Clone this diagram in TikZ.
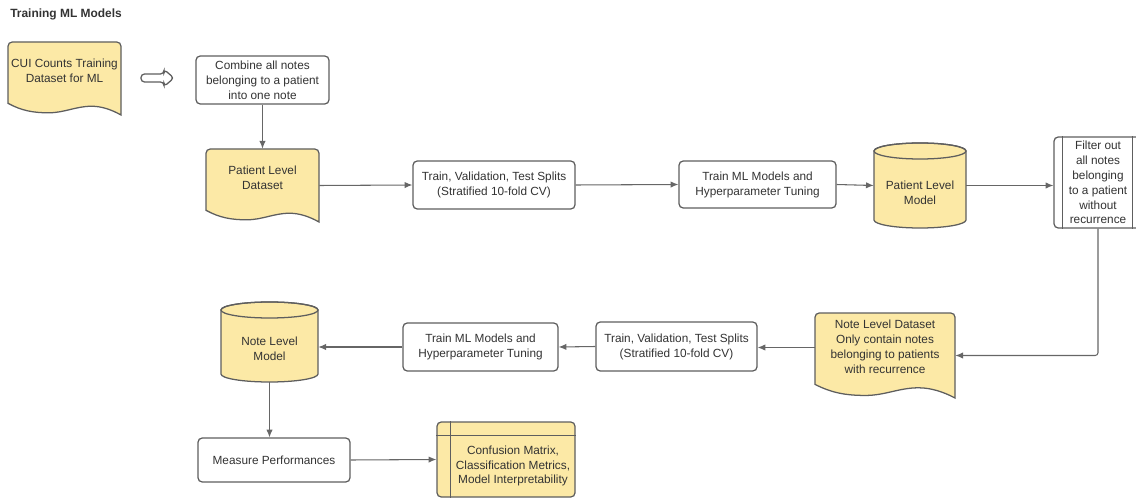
\documentclass[tikz,border=0pt]{standalone}
\usepackage{fontspec}
\setmainfont{Liberation Sans}
\usetikzlibrary{arrows.meta,calc}

\definecolor{noteyellow}{HTML}{FCE9A6}
\definecolor{edgegray}{HTML}{5E5E5E}
\definecolor{linegray}{HTML}{666666}
\definecolor{textgray}{HTML}{333333}

\tikzset{
  shapeline/.style={draw=edgegray, line width=0.9pt},
  boxsize/.style 2 args={minimum width=#1*0.025cm, minimum height=#2*0.025cm},
  stepbox/.style={shapeline, fill=white, rounded corners=3pt, align=center, text=textgray, inner sep=0pt},
  docbox/.style={draw=none, inner sep=0pt},
  notetext/.style={align=center, text=textgray, inner sep=0pt},
  flow/.style={draw=linegray, line width=0.75pt, -{Latex[length=5.5pt,width=4.5pt]}},
}

% document shape with a wavy bottom: name, x, y, width, height, text
\newcommand{\docshape}[6]{%
  \begin{scope}[shift={(#2,#3)}, xscale=#4, yscale=#5]
    \draw[shapeline, fill=noteyellow] (0,0.5) [rounded corners=3pt] -- (0,0) -- (1,0) -- (1,0.5) [sharp corners] -- (1,1)
      .. controls (0.92,0.93) and (0.83,0.88) .. (0.74,0.88)
      .. controls (0.6,0.88) and (0.5,0.97) .. (0.36,0.97)
      .. controls (0.22,0.97) and (0.12,0.94) .. (0,0.84) -- cycle;
  \end{scope}
  \node[docbox, boxsize={#4}{#5}] (#1) at (#2+#4/2, #3+#5/2) {};
  \node[notetext] (#1-t) at (#2+#4/2, #3+0.4*#5) {#6};
}

% cylinder (database) shape: name, x, y, width, height, text
\newcommand{\cylshape}[6]{%
  \draw[shapeline, fill=noteyellow] (#2,#3+8) -- (#2,#3+#5-8)
    arc[start angle=180, end angle=0, x radius=#4/2, y radius=8] -- (#2+#4,#3+8)
    arc[start angle=0, end angle=-180, x radius=#4/2, y radius=8] -- cycle;
  \draw[shapeline] (#2+#4/2,#3+8) ellipse[x radius=#4/2, y radius=8];
  \node[docbox, boxsize={#4}{#5}] (#1) at (#2+#4/2, #3+#5/2) {};
  \node[notetext] (#1-t) at (#2+#4/2, #3+#5/2+7) {#6};
}

\begin{document}
\begin{tikzpicture}[x=0.025cm, y=-0.025cm, font=\fontsize{8.4}{10.6}\selectfont]
  \useasboundingbox (0,0) rectangle (1136,498);

  \node[anchor=west, inner sep=0pt, text=textgray, font=\fontsize{8.5}{10}\selectfont\bfseries] (title) at (10,14) {Training ML Models};

  % first row
  \docshape{cui}{8}{42}{113}{73}{CUI Counts Training\\Dataset for ML}
  \draw[shapeline, fill=white, rounded corners=2.5pt] (141,74) -- (164,74) -- (164,69.5) -- (174,78) -- (164,86.5) -- (164,82) -- (141,82) -- cycle;
  \node[stepbox, boxsize={133}{48}] (combine) at (262.5,80) {Combine all notes\\belonging to a patient\\into one note};

  % patient level row
  \docshape{pld}{206}{149}{113}{73}{Patient Level\\Dataset}
  \node[stepbox, boxsize={162}{48}] (splitp) at (494,185) {Train, Validation, Test Splits\\(Stratified 10-fold CV)};
  \node[stepbox, boxsize={157}{47}] (tunep) at (757.5,184.5) {Train ML Models and\\Hyperparameter Tuning};
  \cylshape{plm}{874}{143}{92}{85}{Patient Level\\Model}
  \node[stepbox, boxsize={88}{91}] (filter) at (1098,182.5) {Filter out\\all notes\\belonging\\to a patient\\without\\recurrence};
  \draw[shapeline] ($(filter.north west)+(9,0)$) -- ($(filter.south west)+(9,0)$);
  \draw[shapeline] ($(filter.north east)+(-10,0)$) -- ($(filter.south east)+(-10,0)$);

  % note level row
  \docshape{nld}{815}{313}{140}{85}{Note Level Dataset\\Only contain notes\\belonging to patients\\with recurrence}
  \node[stepbox, boxsize={161}{49}] (splitn) at (676.5,346.5) {Train, Validation, Test Splits\\(Stratified 10-fold CV)};
  \node[stepbox, boxsize={155}{48}] (tunen) at (480.5,347) {Train ML Models and\\Hyperparameter Tuning};
  \cylshape{nlm}{221}{302}{97}{80}{Note Level\\Model}

  % evaluation
  \node[stepbox, boxsize={152}{44}] (measure) at (274,460) {Measure Performances};
  \node[stepbox, fill=noteyellow, boxsize={138}{75}] (metrics) at (506,459.5) {};
  \draw[shapeline] ($(metrics.north west)+(14,0)$) -- ($(metrics.south west)+(14,0)$);
  \draw[shapeline] ($(metrics.north west)+(0,14)$) -- ($(metrics.north east)+(0,14)$);
  \node[notetext] (metrics-t) at (513,466) {Confusion Matrix,\\Classification Metrics,\\Model Interpretability};

  % connectors
  \draw[flow] (combine.south) -- (pld.north);
  \draw[flow] (pld.east) -- (splitp.west);
  \draw[flow] (splitp.east) -- (tunep.west);
  \draw[flow] (tunep.east) -- (plm.west);
  \draw[flow] (plm.east) -- (plm.east -| filter.west);
  \draw[flow, rounded corners=2pt] (filter.south) |- (nld.east);
  \coordinate (nld-in) at ($(nld.west)+(0,-8)$);
  \draw[flow] (nld-in) -- (nld-in -| splitn.east);
  \draw[flow] (splitn.west) -- (tunen.east);
  \draw[flow] (tunen.west) -- (tunen.west -| nlm.east);
  \draw[flow] (nlm.south) -- (nlm.south |- measure.north);
  \draw[flow] (measure.east) -- (metrics.west);
\end{tikzpicture}
\end{document}
